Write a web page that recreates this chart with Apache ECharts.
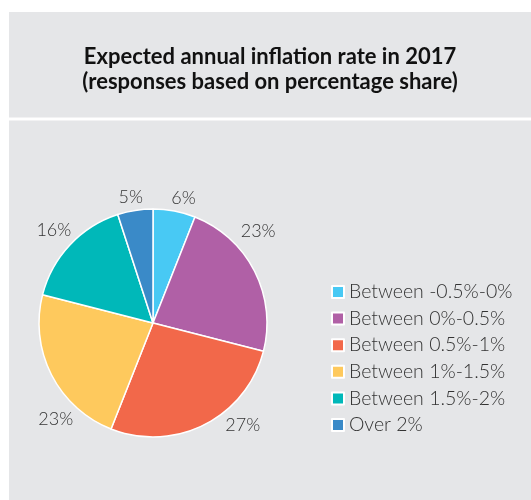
<!DOCTYPE html>
<html>
<head>
<meta charset="utf-8">
<script src="https://cdn.jsdelivr.net/npm/echarts@6/dist/echarts.min.js"></script>
<style>
html,body{margin:0;padding:0;background:#ffffff;}
#chart{width:531px;height:500px;}
</style>
</head>
<body>
<div id="chart"></div>
<script>
var titleLines = ['Expected annual inflation rate in 2017', '(responses based on percentage share)'];
var categories = ['Between -0.5%-0%', 'Between 0%-0.5%', 'Between 0.5%-1%', 'Between 1%-1.5%', 'Between 1.5%-2%', 'Over 2%'];
var shares = [6, 23, 27, 23, 16, 5];
var colors = ['#48c9f4', '#b060a6', '#f2684a', '#fec95d', '#00b8b9', '#3a8ac8'];

// label nudges (styling only), relative to the slice-middle position
var labelNudge = [[5, 9], [-16, -30], [28, -19], [24, 34], [0, 0], [-1, 9]];

var chart = echarts.init(document.getElementById('chart'), null, {renderer: 'canvas'});
var font = 'Lato, "Open Sans", sans-serif';

var pieData = categories.map(function (c, i) {
  return {name: c, value: shares[i], itemStyle: {color: colors[i]}};
});

chart.setOption({
  backgroundColor: '#ffffff',
  animation: false,
  color: colors,
  graphic: [
    {type: 'rect', shape: {x: 9, y: 12, width: 522, height: 105.5}, style: {fill: '#e5e6e8'}, z: -10, silent: true},
    {type: 'rect', shape: {x: 9, y: 120.5, width: 522, height: 380}, style: {fill: '#e5e6e8'}, z: -10, silent: true}
  ],
  title: {
    text: titleLines.join('\n'),
    left: 265,
    top: 39,
    textAlign: 'center',
    textStyle: {fontFamily: font, fontWeight: 'bold', fontSize: 22, lineHeight: 25, color: '#111111'}
  },
  legend: {
    orient: 'vertical',
    left: 326,
    top: 277,
    itemWidth: 12,
    itemHeight: 12,
    itemGap: 6.6,
    icon: 'rect',
    selectedMode: false,
    data: categories,
    textStyle: {fontFamily: font, fontWeight: 300, fontSize: 19.5, lineHeight: 18, color: '#333333', padding: [0, 0, 0, 0]}
  },
  series: [
    {
      type: 'pie',
      name: 'shares',
      center: [153, 323],
      radius: [0, 114],
      startAngle: 90,
      clockwise: true,
      silent: true,
      itemStyle: {borderColor: '#ffffff', borderWidth: 1.5},
      label: {show: false},
      labelLine: {show: false},
      data: pieData
    },
    {
      type: 'pie',
      name: 'labels',
      center: [153, 323],
      radius: [114, 152],
      startAngle: 90,
      clockwise: true,
      silent: true,
      itemStyle: {color: 'rgba(0,0,0,0)', borderWidth: 0},
      label: {
        show: true,
        position: 'inside',
        formatter: '{c}%',
        fontFamily: font,
        fontWeight: 300,
        fontSize: 18,
        color: '#333333'
      },
      labelLine: {show: false},
      labelLayout: function (p) {
        var n = labelNudge[p.dataIndex] || [0, 0];
        return {dx: n[0], dy: n[1]};
      },
      data: categories.map(function (c, i) { return {name: c, value: shares[i]}; })
    }
  ]
});
</script>
</body>
</html>
